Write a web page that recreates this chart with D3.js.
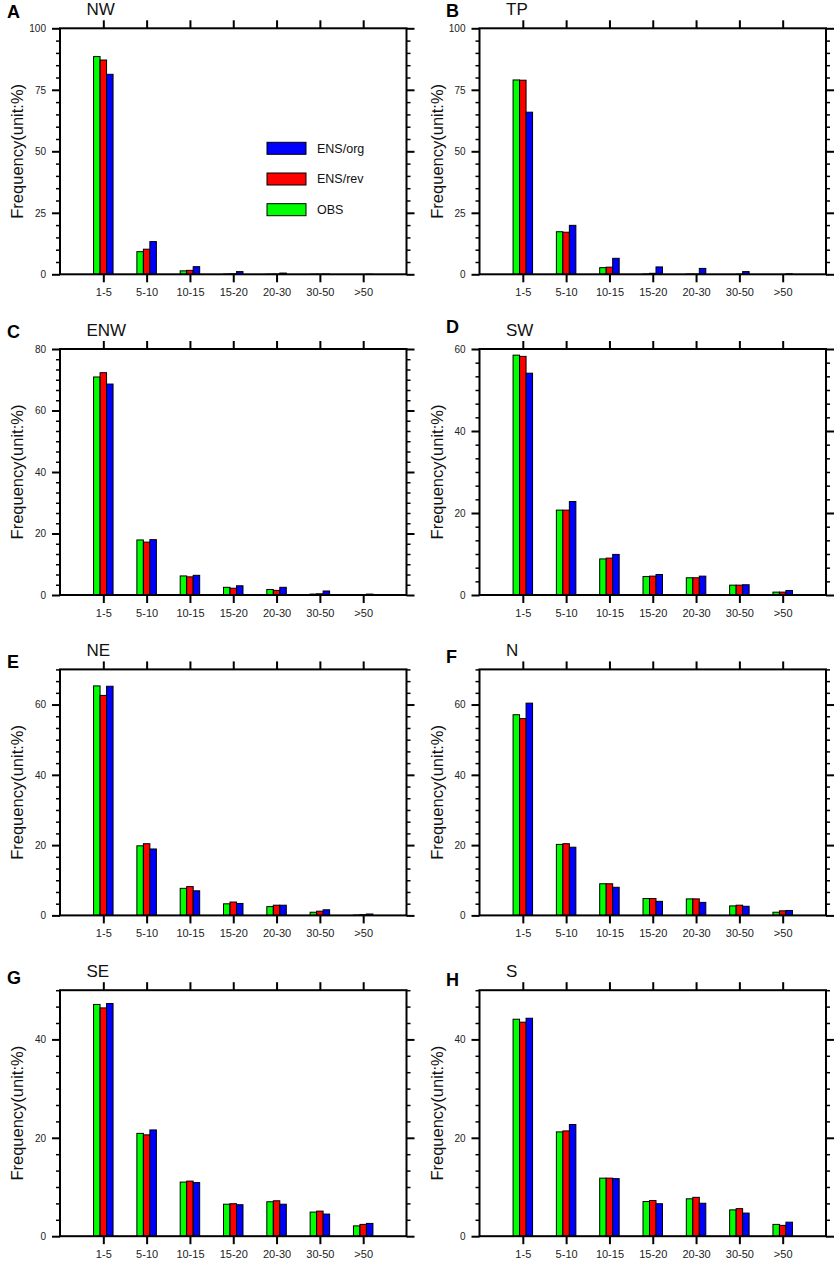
<!DOCTYPE html>
<html>
<head>
<meta charset="utf-8">
<script src="https://cdn.jsdelivr.net/npm/d3@7"></script>
<style>
  body { margin: 0; background: #fff; }
  svg { display: block; font-family: "Liberation Sans", Arial, Helvetica, sans-serif; }
  .axis path.domain { display: none; }
  .axis line { stroke: #000; }
  .axis text { fill: #222; }
</style>
</head>
<body>
<div id="chart"></div>
<script>
// bins and regions
const categories = ["1-5", "5-10", "10-15", "15-20", "20-30", "30-50", ">50"];
const regions = ["NW", "TP", "ENW", "SW", "NE", "N", "SE", "S"];
const letters = ["A", "B", "C", "D", "E", "F", "G", "H"];
const seriesNames = ["OBS", "ENS/rev", "ENS/org"];

// y axis per panel
const yMax = [100, 100, 80, 60, 70, 70, 50, 50];
const yStep = [25, 25, 20, 20, 20, 20, 20, 20];
const yMinorCount = [5, 5, 6, 6, 6, 6, 6, 6];

// frequency (%) per panel, one row per region
const obsValues = [
  [88.5, 9.2, 1.4, 0.1, 0.05, 0.02, 0],
  [79.0, 17.3, 2.7, 0.1, 0.1, 0, 0],
  [70.9, 17.9, 6.2, 2.5, 1.8, 0.3, 0],
  [58.5, 20.7, 8.8, 4.5, 4.2, 2.4, 0.7],
  [65.3, 19.8, 7.7, 3.3, 2.5, 0.9, 0.1],
  [57.1, 20.2, 9.0, 4.8, 4.7, 2.7, 0.9],
  [47.1, 20.9, 11.0, 6.5, 7.0, 4.9, 2.1],
  [44.1, 21.2, 11.8, 7.05, 7.6, 5.35, 2.4]
];
const revValues = [
  [87.1, 10.2, 1.6, 0.2, 0.1, 0.05, 0],
  [78.9, 17.1, 2.9, 0.4, 0.1, 0.05, 0],
  [72.3, 17.2, 5.9, 2.2, 1.5, 0.4, 0],
  [58.2, 20.7, 9.0, 4.6, 4.2, 2.4, 0.7],
  [62.6, 20.4, 8.2, 3.8, 2.9, 1.2, 0.2],
  [56.0, 20.4, 9.0, 4.8, 4.7, 2.9, 1.3],
  [46.4, 20.6, 11.2, 6.6, 7.2, 5.1, 2.4],
  [43.5, 21.4, 11.8, 7.25, 7.9, 5.6, 2.2]
];
const orgValues = [
  [81.3, 13.3, 3.1, 1.1, 0.5, 0.1, 0.05],
  [65.9, 19.9, 6.5, 3.0, 2.4, 1.1, 0.2],
  [68.6, 18.0, 6.4, 3.0, 2.5, 1.3, 0.3],
  [54.1, 22.8, 9.9, 5.0, 4.6, 2.5, 1.1],
  [65.2, 18.9, 7.0, 3.4, 2.9, 1.6, 0.4],
  [60.4, 19.4, 8.0, 4.0, 3.7, 2.6, 1.4],
  [47.3, 21.6, 10.9, 6.4, 6.5, 4.5, 2.6],
  [44.3, 22.7, 11.7, 6.6, 6.7, 4.7, 2.85]
];

const colors = ["#00ff00", "#ff0000", "#0000ff"];

// layout
const W = 837, H = 1261;
const colLeft = [60, 479.5];
const rowTop = [28.3, 349, 669.4, 990.2];
const plotW = 346.5, plotH = 246;
const letterDy = [-10, -11, -11, -16, -1, -6, -6, -4];
const barW = 0.15;

const svg = d3.select("#chart").append("svg")
  .attr("width", W)
  .attr("height", H);

regions.forEach((region, p) => {
  const left = colLeft[p % 2];
  const top = rowTop[Math.floor(p / 2)];
  const g = svg.append("g").attr("transform", `translate(${left},${top})`);

  const x = d3.scaleLinear().domain([0, categories.length + 1]).range([0, plotW]);
  const y = d3.scaleLinear().domain([0, yMax[p]]).range([plotH, 0]);

  const majors = d3.range(0, yMax[p] + 0.001, yStep[p]);
  const minorStep = yStep[p] / yMinorCount[p];
  const minors = d3.range(0, yMax[p] + 0.001, minorStep).filter(v => Math.abs(v / yStep[p] - Math.round(v / yStep[p])) > 1e-6);
  const catTicks = d3.range(1, categories.length + 1);

  // bars
  const series = [obsValues[p], revValues[p], orgValues[p]];
  series.forEach((vals, s) => {
    g.selectAll(".bar" + s)
      .data(vals)
      .enter()
      .append("rect")
      .attr("x", (d, i) => x(i + 1 + (s - 1.5) * barW))
      .attr("width", x(barW) - x(0))
      .attr("y", d => y(d))
      .attr("height", d => y(0) - y(d))
      .attr("fill", colors[s])
      .attr("stroke", "#000")
      .attr("stroke-width", 1);
  });

  // axes
  g.append("g").attr("class", "axis")
    .call(d3.axisLeft(y).tickValues(majors).tickSize(8).tickPadding(6).tickFormat(d3.format("d")))
    .call(a => a.selectAll("line").attr("stroke-width", 2))
    .call(a => a.selectAll("text").attr("font-size", 10));
  g.append("g").attr("class", "axis")
    .call(d3.axisLeft(y).tickValues(minors).tickSize(4).tickFormat(""))
    .call(a => a.selectAll("line").attr("stroke-width", 1.5));
  g.append("g").attr("class", "axis").attr("transform", `translate(${plotW},0)`)
    .call(d3.axisRight(y).tickValues(majors).tickSize(8).tickFormat(""))
    .call(a => a.selectAll("line").attr("stroke-width", 2));
  g.append("g").attr("class", "axis").attr("transform", `translate(${plotW},0)`)
    .call(d3.axisRight(y).tickValues(minors).tickSize(4).tickFormat(""))
    .call(a => a.selectAll("line").attr("stroke-width", 1.5));
  g.append("g").attr("class", "axis")
    .call(d3.axisTop(x).tickValues(catTicks).tickSize(8).tickFormat(""))
    .call(a => a.selectAll("line").attr("stroke-width", 2));
  g.append("g").attr("class", "axis").attr("transform", `translate(0,${plotH})`)
    .call(d3.axisBottom(x).tickValues(catTicks).tickSize(8).tickPadding(6).tickFormat(d => categories[d - 1]))
    .call(a => a.selectAll("line").attr("stroke-width", 2))
    .call(a => a.selectAll("text").attr("font-size", 11));

  // frame
  g.append("rect")
    .attr("width", plotW)
    .attr("height", plotH)
    .attr("fill", "none")
    .attr("stroke", "#000")
    .attr("stroke-width", 2);

  // y title
  g.append("text")
    .attr("transform", `translate(${-37},${plotH / 2}) rotate(-90)`)
    .attr("text-anchor", "middle")
    .attr("font-size", 16.5)
    .attr("fill", "#111")
    .text("Frequency(unit:%)");

  // region title and panel letter
  g.append("text")
    .attr("x", 26.5)
    .attr("y", -13)
    .attr("font-size", 17)
    .attr("fill", "#111")
    .text(region);
  g.append("text")
    .attr("x", (p % 2 === 0 ? 7 : 446) - left)
    .attr("y", letterDy[p])
    .attr("font-size", 18)
    .attr("font-weight", "bold")
    .attr("fill", "#000")
    .text(letters[p]);

  // legend in first panel
  if (p === 0) {
    const order = [2, 1, 0];
    const lg = g.append("g").attr("transform", "translate(207,114)");
    order.forEach((s, k) => {
      lg.append("rect")
        .attr("x", 0)
        .attr("y", k * 30.7)
        .attr("width", 39)
        .attr("height", 12)
        .attr("fill", colors[s])
        .attr("stroke", "#000")
        .attr("stroke-width", 1);
      lg.append("text")
        .attr("x", 50)
        .attr("y", k * 30.7 + 6)
        .attr("dy", "0.35em")
        .attr("font-size", 12.5)
        .attr("fill", "#111")
        .text(seriesNames[s]);
    });
  }
});
</script>
</body>
</html>
